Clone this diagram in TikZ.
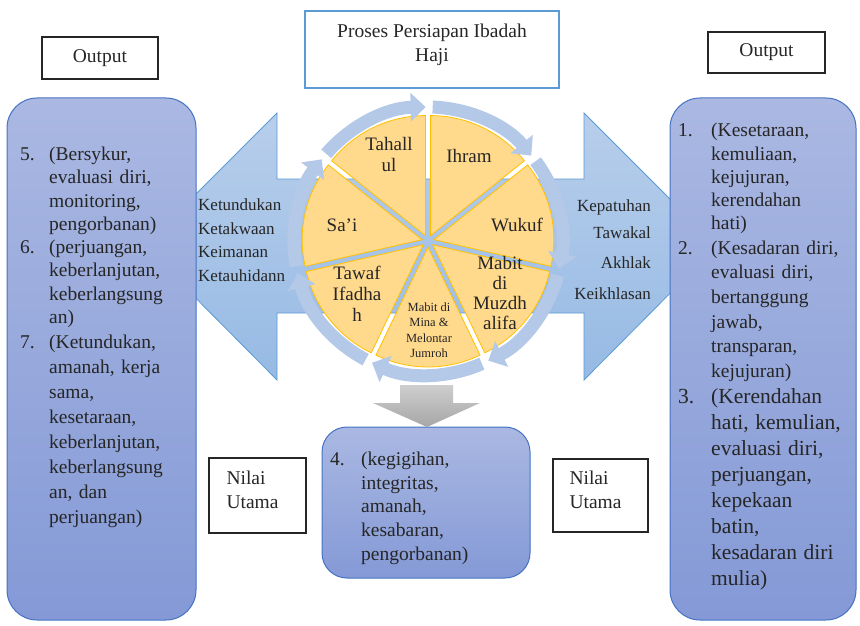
\documentclass[tikz,border=0pt]{standalone}
\usepackage{fontspec}
\setmainfont{Liberation Serif}
\usetikzlibrary{arrows.meta,positioning,calc}

\definecolor{boxtop}{RGB}{170,184,226}
\definecolor{boxbot}{RGB}{132,153,214}
\definecolor{boxedge}{RGB}{68,114,196}
\definecolor{arrtop}{RGB}{184,206,235}
\definecolor{arrbot}{RGB}{150,186,228}
\definecolor{arredge}{RGB}{91,155,213}
\definecolor{ringblue}{RGB}{180,200,232}
\definecolor{piefill}{RGB}{255,217,140}
\definecolor{pieedge}{RGB}{255,192,0}
\definecolor{graytop}{RGB}{206,206,206}
\definecolor{graybot}{RGB}{166,166,166}
\definecolor{inktext}{RGB}{38,38,38}

\newcommand{\hajiitem}[2][29pt]{\par\hangindent=#1\hangafter=1\noindent\makebox[#1][l]{#2}}

\begin{document}
\begin{tikzpicture}[
    x=1pt, y=-1pt,
    outbox/.style={rectangle, draw=black!85, line width=1.5pt, text=inktext, font=\fontsize{19.5}{23.5}\selectfont},
    nilaibox/.style={rectangle, draw=black!85, line width=1.5pt, text=inktext, align=left, text width=62pt, text depth=36pt, font=\fontsize{19.5}{24.5}\selectfont},
    bigbox/.style={rectangle, rounded corners=30pt, draw=boxedge, line width=1pt, top color=boxtop, bottom color=boxbot},
    listtext/.style={inner sep=0pt, text width=175pt, text=inktext, font=\fontsize{19.5}{23.3}\selectfont},
    steplabel/.style={align=center, inner sep=0pt, text=inktext, font=\fontsize{19}{20.5}\selectfont},
    armlabel/.style={inner sep=0pt, text=inktext, font=\fontsize{17}{23.5}\selectfont},
    dblarr/.style={draw=arredge, line width=0.8pt, top color=arrtop, bottom color=arrbot},
    grayarr/.style={top color=graytop, bottom color=graybot},
    ringarr/.style={draw=ringblue, line width=13pt, line cap=butt, -{Triangle[width=28pt, length=15pt]}},
    sector/.style={fill=piefill, draw=pieedge, line width=0.8pt}
]
    \useasboundingbox (0,0) rectangle (860,626);

    % big two-headed arrow behind the wheel
    \path [dblarr] (144,246) -- (277,113) -- (277,179) -- (584,179) -- (584,113)
        -- (717,246) -- (584,380) -- (584,313) -- (277,313) -- (277,380) -- cycle;

    % output boxes
    \node [bigbox, minimum width=189pt, minimum height=522pt] (outL) at (101.5,359) {};
    \node [bigbox, minimum width=186pt, minimum height=522pt] (outR) at (763,359) {};
    \node [bigbox, rounded corners=25pt, minimum width=208pt, minimum height=151pt] (outB) at (426,502.5) {};

    % wheel
    \coordinate (c) at (428,241);
    \foreach \k in {0,...,6} {
        \pgfmathsetmacro{\bis}{-64.29+51.43*\k}
        \path [sector] ($(c)+(\bis:6)$) -- ++(\bis-25.71:120)
            arc [start angle=\bis-25.71, end angle=\bis+25.71, radius=120] -- cycle;
    }
    \foreach \k in {0,...,6} {
        \pgfmathsetmacro{\sang}{-90+51.43*\k}
        \draw [ringarr] ($(c)+(\sang+2:134)$) arc [start angle=\sang+2, end angle=\sang+50.4, radius=134];
    }

    \path [grayarr] (400,385) -- (453,385) -- (453,403) -- (480,403) -- (427,427)
        -- (373,403) -- (400,403) -- cycle;

    \node [steplabel] (ihram) at (469,156) {Ihram};
    \node [steplabel] (wukuf) at (517,225) {Wukuf};
    \node [steplabel, font=\fontsize{19}{20}\selectfont] (muzd) at (500,293) {Mabit\\di\\Muzdh\\alifa};
    \node [steplabel, font=\fontsize{12.5}{15.5}\selectfont] (mina) at (429,330) {Mabit di\\Mina \&\\Melontar\\Jumroh};
    \node [steplabel, font=\fontsize{19}{21}\selectfont] (tawaf) at (357,294) {Tawaf\\Ifadha\\h};
    \node [steplabel] (sai) at (342,225) {Sa'i};
    \node [steplabel, font=\fontsize{19}{21}\selectfont] (tahal) at (389,155) {Tahall\\ul};

    \node [armlabel, anchor=west, align=left] (valL) at (198,240) {Ketundukan\\Ketakwaan\\Keimanan\\Ketauhidann};
    \node [armlabel, anchor=east, align=right] (valR) at (651,250) {Kepatuhan\\[3.5pt]Tawakal\\[6.5pt]Akhlak\\[7.5pt]Keikhlasan};

    % top boxes
    \node [rectangle, draw=arredge, line width=2pt, minimum width=254pt, minimum height=77pt, align=center,
        text depth=14pt, text=inktext, font=\fontsize{19.5}{24}\selectfont] (title) at (432,49.5)
        {Proses Persiapan Ibadah\\Haji};
    \node [outbox, minimum width=116pt, minimum height=42pt] (headL) at (100,58) {Output};
    \node [outbox, minimum width=117pt, minimum height=41pt] (headR) at (766.5,52.5) {Output};
    \node [nilaibox, minimum width=97pt, minimum height=75pt] (nilaiL) at (257.5,495.5) {Nilai\\Utama};
    \node [nilaibox, minimum width=95pt, minimum height=73pt] (nilaiR) at (600.5,495.5) {Nilai\\Utama};

    % value lists
    \node [listtext, anchor=north west] (listL) at (20,137) {%
        \hajiitem{5.}(Bersykur,\newline evaluasi diri,\newline monitoring,\newline pengorbanan)%
        \hajiitem{6.}(perjuangan,\newline keberlanjutan,\newline keberlangsung\newline an)%
        \par\fontsize{19.5}{25}\selectfont
        \hajiitem{7.}(Ketundukan,\newline amanah, kerja\newline sama,\newline kesetaraan,\newline keberlanjutan,\newline keberlangsung\newline an, dan\newline perjuangan)\par};
    \node [listtext, anchor=north west, font=\fontsize{19.5}{23.2}\selectfont] (listR) at (678,113.5) {%
        \hajiitem[33pt]{1.}(Kesetaraan,\newline kemuliaan,\newline kejujuran,\newline kerendahan\newline hati)%
        \par\fontsize{19.5}{24.6}\selectfont
        \hajiitem[33pt]{2.}(Kesadaran diri,\newline evaluasi diri,\newline bertanggung\newline jawab,\newline transparan,\newline kejujuran)%
        \par\fontsize{21.5}{26}\selectfont
        \hajiitem[33pt]{3.}(Kerendahan\newline hati, kemulian,\newline evaluasi diri,\newline perjuangan,\newline kepekaan\newline batin,\newline kesadaran diri\newline mulia)\par};
    \node [listtext, anchor=north west, text width=170pt, font=\fontsize{19.5}{23.75}\selectfont] (listB) at (330,441.5) {%
        \hajiitem[31pt]{4.}(kegigihan,\newline integritas,\newline amanah,\newline kesabaran,\newline pengorbanan)\par};
\end{tikzpicture}
\end{document}
